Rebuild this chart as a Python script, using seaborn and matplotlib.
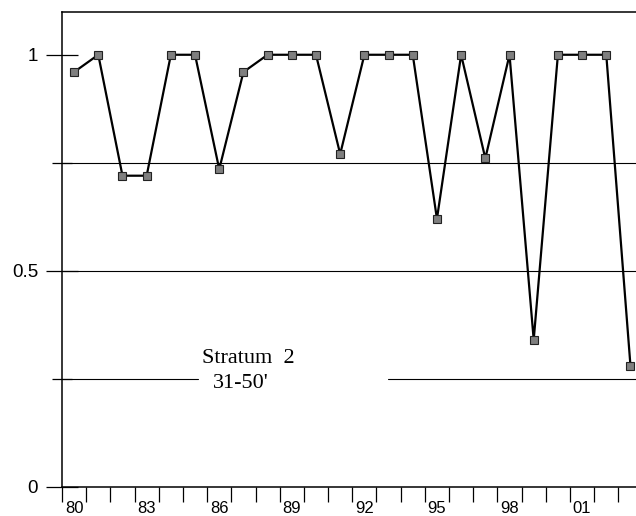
import numpy as np
import matplotlib
matplotlib.use("Agg")
import matplotlib.pyplot as plt
import seaborn as sns
from matplotlib.ticker import FixedLocator, NullFormatter

# Annual proportion, stratum 2 (31-50 ft)
years = list(range(1980, 2004))
values = [0.96, 1.0, 0.72, 0.72, 1.0, 1.0, 0.735, 0.96, 1.0, 1.0, 1.0, 0.77,
          1.0, 1.0, 1.0, 0.62, 1.0, 0.76, 1.0, 0.34, 1.0, 1.0, 1.0, 0.28]
label_years = [1980, 1983, 1986, 1989, 1992, 1995, 1998, 2001]
label_text = ["80", "83", "86", "89", "92", "95", "98", "01"]
y_major = [0, 0.5, 1]
y_major_text = ["0", "0.5", "1"]
y_minor = [0.25, 0.75]
title_lines = ["Stratum  2", "31-50'"]

sns.set_style("ticks")
plt.rcParams["font.family"] = ["Liberation Sans", "DejaVu Sans"]

fig = plt.figure(figsize=(6.36, 5.16), dpi=100)
ax = fig.add_axes([62 / 636, 29.3 / 516, 574 / 636, 474.7 / 516])

# each value sits in the middle of its year
x_mid = np.array(years) + 0.5
sns.lineplot(x=x_mid, y=values, ax=ax, color="black", linewidth=1.6,
             marker="s", markersize=6.2, markerfacecolor="#7f7f7f",
             markeredgecolor="#222222", markeredgewidth=0.8)

ax.set_xlim(1980, 1980 + 574 / 24.19)
ax.set_ylim(0, 1.099)

# reference lines
ax.axhline(0.75, color="black", lw=0.8, zorder=1)
ax.axhline(0.5, color="black", lw=0.8, zorder=1)
ax.axhline(0.25, xmin=0, xmax=0.237, color="black", lw=0.8, zorder=1)
ax.axhline(0.25, xmin=0.568, xmax=1, color="black", lw=0.8, zorder=1)

# x ticks at year boundaries, labels centred on the year
ax.xaxis.set_major_locator(FixedLocator(list(range(1980, 2005))))
ax.xaxis.set_major_formatter(NullFormatter())
ax.set_xticks(np.array(label_years) + 0.5, minor=True)
ax.set_xticklabels(label_text, minor=True)
ax.tick_params(axis="x", which="major", direction="out", length=10.8,
               width=0.9, color="black")
ax.tick_params(axis="x", which="minor", length=0, pad=10,
               labelsize=12, labelcolor="black")

ax.set_yticks(y_major)
ax.set_yticklabels(y_major_text)
ax.set_yticks(y_minor, minor=True)
ax.tick_params(axis="y", which="major", direction="inout", length=23.4,
               width=0.9, pad=5.5, labelsize=13.5, color="black",
               labelcolor="black")
ax.tick_params(axis="y", which="minor", direction="inout", length=15,
               width=0.9, color="black")

for side in ["left", "top", "bottom"]:
    ax.spines[side].set_linewidth(1.1)
    ax.spines[side].set_color("black")
ax.spines["right"].set_visible(False)

ax.set_xlabel("")
ax.set_ylabel("")

serif = ["Liberation Serif", "DejaVu Serif"]
ax.text(1985.78, 0.2856, title_lines[0], family=serif, fontsize=16,
        color="black", ha="left", va="baseline")
ax.text(1986.24, 0.2285, title_lines[1], family=serif, fontsize=16,
        color="black", ha="left", va="baseline")

fig.savefig("out.png", dpi=100)
